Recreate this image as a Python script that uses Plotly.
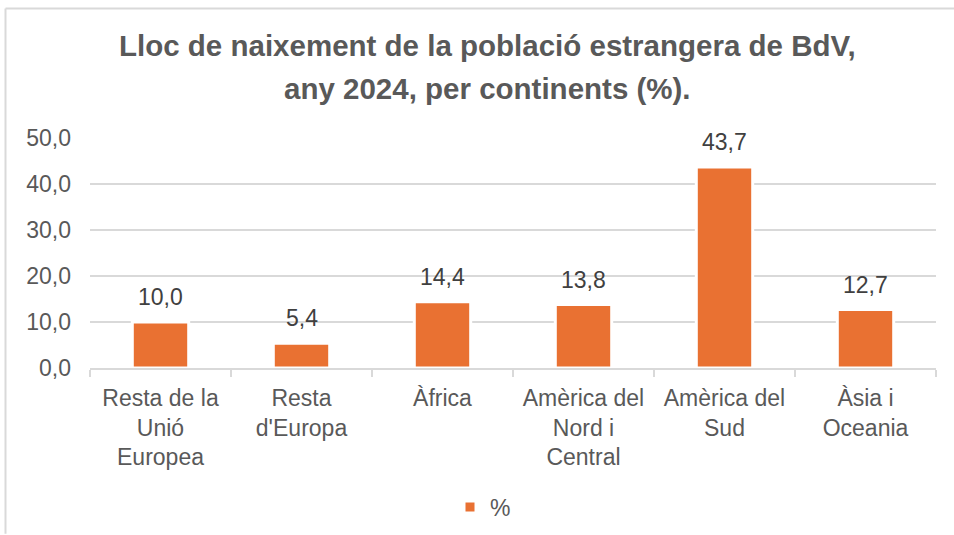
import plotly.graph_objects as go

categories = ["Resta de la<br>Unió<br>Europea", "Resta<br>d'Europa", "Àfrica",
              "Amèrica del<br>Nord i<br>Central", "Amèrica del<br>Sud", "Àsia i<br>Oceania"]
values = [10.0, 5.4, 14.4, 13.8, 43.7, 12.7]
series_name = "%"
title_lines = ["Lloc de naixement de la població estrangera de BdV,",
               "any 2024, per continents (%)."]

W, H = 954, 535
L, R, T, B = 90, 18, 137.5, 166.5
pw, ph = W - L - R, H - T - B

def px_x(px):
    return (px - L) / pw

def px_y(py):
    return (H - B - py) / ph

ORANGE = "#E97132"
GRID = "#d9d9d9"
TXT = "#595959"
FONT = "Liberation Sans, Arial, sans-serif"

fig = go.Figure()
fig.add_trace(go.Bar(
    x=categories, y=values, name=series_name,
    marker=dict(color=ORANGE, line=dict(color="white", width=3)),
    showlegend=True,
))

annotations = []
for c, v in zip(categories, values):
    annotations.append(dict(
        x=c, y=v, xref="x", yref="y", text=f"{v:.1f}".replace(".", ","),
        showarrow=False, yanchor="bottom", yshift=10,
        font=dict(family=FONT, size=23, color="#404040"),
    ))

for i, (line, py) in enumerate(zip(title_lines, [45, 88])):
    annotations.append(dict(
        x=px_x(487), y=px_y(py), xref="paper", yref="paper", text=f"<b>{line}</b>",
        showarrow=False, xanchor="center", yanchor="middle",
        font=dict(family=FONT, size=29.5, color=TXT),
    ))

shapes = [
    dict(type="line", xref="paper", yref="paper", x0=px_x(5.5), x1=px_x(5.5),
         y0=px_y(7.5), y1=px_y(535), line=dict(color=GRID, width=2)),
    dict(type="line", xref="paper", yref="paper", x0=px_x(5.5), x1=px_x(954),
         y0=px_y(7.5), y1=px_y(7.5), line=dict(color=GRID, width=2)),
]

fig.update_layout(
    width=W, height=H,
    margin=dict(l=L, r=R, t=T, b=B, pad=0, autoexpand=False),
    paper_bgcolor="white", plot_bgcolor="white",
    separators=",.",
    bargap=0.6,
    font=dict(family=FONT, size=23, color=TXT),
    annotations=annotations,
    shapes=shapes,
    legend=dict(orientation="h", xref="container", yref="container",
                x=483 / W, y=1 - 507 / H, xanchor="center", yanchor="middle",
                font=dict(family=FONT, size=23, color=TXT)),
    xaxis=dict(
        showgrid=False, showline=True, linecolor=GRID, linewidth=2,
        ticks="outside", tickson="boundaries", ticklen=7, tickcolor=GRID, tickwidth=2,
        ticklabelstandoff=8, automargin=False,
        tickfont=dict(family=FONT, size=23, color=TXT),
    ),
    yaxis=dict(
        range=[0, 50], dtick=10, tickformat=".1f",
        showgrid=True, gridcolor=GRID, gridwidth=2,
        zeroline=False, showline=False, ticks="",
        ticklabelstandoff=18, automargin=False,
        tickfont=dict(family=FONT, size=23, color=TXT),
    ),
)

fig.write_html("out.html", config={"displayModeBar": False},
               post_script="document.body.style.margin='0';")
